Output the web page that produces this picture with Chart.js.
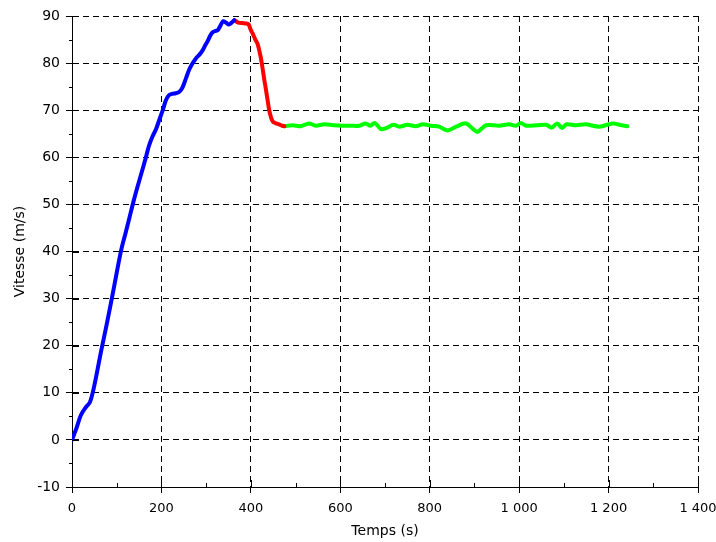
<!DOCTYPE html>
<html>
<head>
<meta charset="utf-8">
<script src="https://cdn.jsdelivr.net/npm/chart.js@4/dist/chart.umd.min.js"></script>
<style>
  body { margin: 0; background: #fff; }
</style>
</head>
<body>
<canvas id="speedChart" width="716" height="542"></canvas>
<script>
// Phase 1: acceleration (blue)
const accelTime = [0, 10, 20, 30, 40, 47, 56, 65, 76, 88, 99, 110, 120, 129, 138, 147, 157, 165, 172, 180,
  188, 195, 203, 210, 217, 225, 232, 240, 247, 255, 262, 270, 277, 285, 292, 298, 303, 309, 314, 320,
  326, 331, 338, 344, 351, 357, 363];
const accelSpeed = [0, 2.5, 5.3, 6.8, 8, 10.3, 14.4, 18.8, 23.8, 29.5, 35, 40.3, 44, 47.4, 50.8, 53.9, 57.2, 59.9, 62.4, 64.4,
  66, 67.9, 70, 72.1, 73.2, 73.5, 73.6, 73.9, 74.8, 76.8, 78.6, 80, 81, 81.8, 82.7, 83.8, 84.6, 85.8, 86.5, 86.8,
  87, 87.8, 88.9, 88.6, 88.2, 88.6, 89.1];

// Phase 2: braking (red)
const brakeTime = [363, 372, 381, 390, 395, 400, 404, 410, 415, 422, 426, 430, 434, 438, 441, 445, 449, 456, 463, 470, 475];
const brakeSpeed = [89.1, 88.6, 88.5, 88.4, 88.2, 87, 86.3, 85, 84.1, 81.3, 79, 76.5, 74.2, 71.8, 70, 68.5, 67.6, 67.2, 67, 66.7, 66.6];

// Phase 3: cruise (green)
const cruiseTime = [475, 493, 512, 530, 545, 564, 585, 605, 625, 642, 657, 667, 677, 691, 705, 719, 732, 750, 769, 784,
  803, 821, 840, 859, 881, 896, 907, 926, 955, 978, 993, 1004, 1015, 1040, 1060, 1073, 1085, 1096, 1106, 1127,
  1149, 1179, 1209, 1224, 1242];
const cruiseSpeed = [66.6, 66.8, 66.6, 67.2, 66.7, 67, 66.8, 66.7, 66.7, 66.7, 67.2, 66.7, 67.3, 66, 66.3, 66.9, 66.5, 66.9, 66.6, 67,
  66.7, 66.5, 65.7, 66.5, 67.2, 66.1, 65.4, 66.8, 66.7, 67, 66.7, 67.3, 66.7, 66.8, 66.9, 66.3, 67.2, 66.2, 67, 66.8,
  67, 66.5, 67.2, 66.9, 66.6];

// Axes
const xMin = 0, xMax = 1400, xStep = 200;
const yMin = -10, yMax = 90, yStep = 10;

function toPoints(ts, vs) {
  return ts.map((t, i) => ({ x: t, y: vs[i] }));
}

function spaced(v) {
  return v.toString().replace(/\B(?=(\d{3})+(?!\d))/g, ' ');
}

// small ticks: inner part of major ticks + minor ticks halfway
const minorTicks = {
  id: 'minorTicks',
  afterDraw(chart) {
    const ctx = chart.ctx;
    const xs = chart.scales.x, ys = chart.scales.y;
    const x0 = xs.getPixelForValue(xMin);
    const y0 = ys.getPixelForValue(yMin);
    ctx.save();
    ctx.strokeStyle = '#000';
    ctx.lineWidth = 1;
    ctx.beginPath();
    for (let v = yMin; v <= yMax; v += yStep / 2) {
      const py = Math.round(ys.getPixelForValue(v)) + 0.5;
      const major = (v - yMin) % yStep === 0;
      ctx.moveTo(x0 - (major ? 0 : 3), py);
      ctx.lineTo(x0 + (major ? 7 : 1), py);
    }
    for (let v = xMin; v <= xMax; v += xStep / 2) {
      const px = Math.round(xs.getPixelForValue(v)) + 0.5;
      const major = (v - xMin) % xStep === 0;
      ctx.moveTo(px, y0);
      ctx.lineTo(px, y0 - (major ? 7 : 4));
    }
    ctx.stroke();
    ctx.restore();
  }
};

const font = { family: 'DejaVu Sans', size: 14 };
Chart.defaults.color = '#000';

new Chart(document.getElementById('speedChart'), {
  type: 'line',
  data: {
    datasets: [
      { data: toPoints(accelTime, accelSpeed), borderColor: '#0000ff' },
      { data: toPoints(brakeTime, brakeSpeed), borderColor: '#ff0000' },
      { data: toPoints(cruiseTime, cruiseSpeed), borderColor: '#00ff00' }
    ]
  },
  options: {
    responsive: false,
    animation: false,
    layout: { padding: { left: 0, top: 16, right: 18, bottom: 0 } },
    elements: {
      point: { radius: 0 },
      line: { borderWidth: 4, tension: 0.3, borderCapStyle: 'round', borderJoinStyle: 'round' }
    },
    plugins: { legend: { display: false }, tooltip: { enabled: false } },
    scales: {
      x: {
        type: 'linear',
        min: xMin,
        max: xMax,
        ticks: { stepSize: xStep, font: { family: 'DejaVu Sans', size: 13 }, padding: 8, maxRotation: 0, callback: v => spaced(v) },
        grid: { color: '#000', tickLength: 6, tickColor: '#000' },
        border: { display: true, color: '#000', width: 1, dash: [6, 4] },
        title: { display: true, text: 'Temps (s)', font: font, padding: { top: 2, bottom: 2 } },
        afterFit(scale) {
          scale.height = 55;
          scale.paddingLeft = 0;
          scale.paddingRight = 0;
        }
      },
      y: {
        min: yMin,
        max: yMax,
        ticks: { stepSize: yStep, font: font, padding: 6 },
        grid: { color: '#000', tickLength: 6, tickColor: '#000' },
        border: { display: true, color: '#000', width: 1, dash: [6, 4] },
        title: { display: true, text: 'Vitesse (m/s)', font: font, padding: { top: 12, bottom: 4 } },
        afterFit(scale) {
          scale.width = 72;
          scale.paddingTop = 0;
          scale.paddingBottom = 0;
        }
      }
    }
  },
  plugins: [minorTicks]
});
</script>
</body>
</html>
